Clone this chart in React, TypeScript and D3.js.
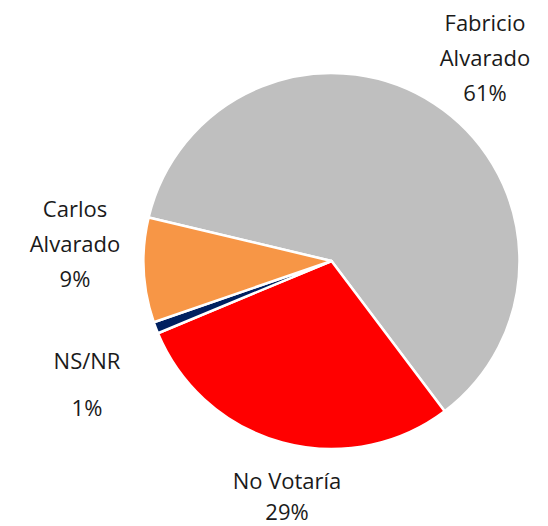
import React from "react";
import * as d3 from "d3";

const categories = ["Fabricio Alvarado", "No Votaría", "NS/NR", "Carlos Alvarado"];
const values = [61, 29, 1, 9];
const colors = ["#BFBFBF", "#FF0000", "#002060", "#F79646"];
const labelLines = [["Fabricio", "Alvarado", "61%"], ["No Votaría", "29%"], ["NS/NR", "1%"], ["Carlos", "Alvarado", "9%"]];
const labelPos: [number, number, number][] = [
  [485, 22, 35],
  [287, 480, 31],
  [87, 360, 47],
  [75, 208, 35],
];

export default function App() {
  const W = 548, H = 526;
  const cx = 331.5, cy = 261, r = 188;
  const start = (-76.6 * Math.PI) / 180;
  const pie = d3.pie<number>().sort(null).value((d) => d).startAngle(start).endAngle(start + 2 * Math.PI);
  const arcs = pie(values);
  const arc = d3.arc<d3.PieArcDatum<number>>().innerRadius(0).outerRadius(r);
  return (
    <svg width={W} height={H} style={{ position: "absolute", left: 0, top: 0, background: "#fff" }}>
      <g transform={`translate(${cx},${cy})`}>
        {arcs.map((a, i) => (
          <path key={categories[i]} d={arc(a) || ""} fill={colors[i]} stroke="#fff" strokeWidth={2.5} strokeLinejoin="round" />
        ))}
      </g>
      {labelLines.map((lines, i) => (
        <text key={i} fontFamily="'Open Sans', Lato, sans-serif" fontSize={22} fill="#1a1a1a" textAnchor="middle">
          {lines.map((t, j) => (
            <tspan key={j} x={labelPos[i][0]} y={labelPos[i][1] + j * labelPos[i][2]} dominantBaseline="central">
              {t}
            </tspan>
          ))}
        </text>
      ))}
    </svg>
  );
}
